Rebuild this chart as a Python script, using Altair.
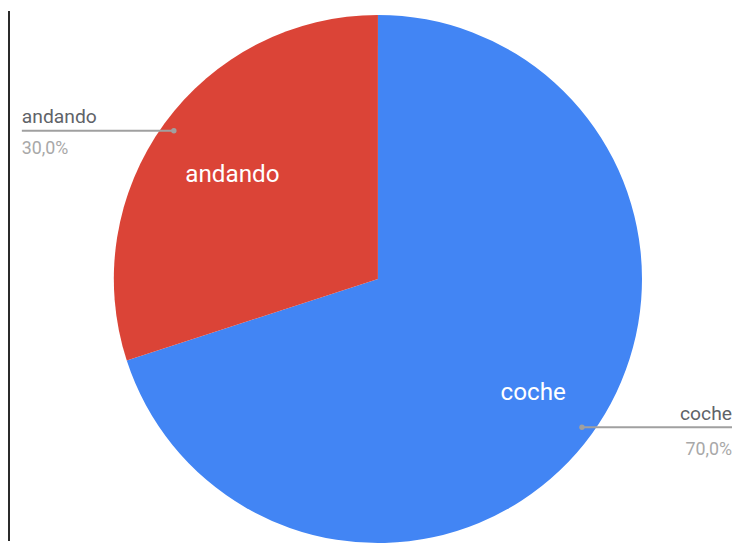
import altair as alt
import pandas as pd

categorias = ["coche", "andando"]
valores = [70, 30]
etiquetas = ["70,0%", "30,0%"]
colores = ["#4285F4", "#DB4437"]
orden = [1, 2]

df = pd.DataFrame({"categoria": categorias, "valor": valores,
                   "etiqueta": etiquetas, "orden": orden})

W, H = 732, 536
CX, CY = 374, 271
R = 267
R_IN = 188
R_DOT = 255
XL, XR = 14, 732

base = alt.Chart(df)

color = alt.Color("categoria:N", scale=alt.Scale(domain=categorias, range=colores), legend=None)
theta = alt.Theta("valor:Q", stack=True)
order = alt.Order("orden:Q")

pie = base.mark_arc(radius=R, x=CX, y=CY).encode(theta=theta, color=color, order=order)

inner = base.mark_text(radius=R_IN, x=CX, y=CY, dx=5, dy=5, color="white", fontSize=24.5,
                       font="Roboto").encode(
    theta=theta, text="categoria:N", order=order, detail="categoria:N")

lead = base.transform_window(
    cum="sum(valor)", sort=[alt.SortField("orden")], frame=[None, 0]
).transform_joinaggregate(
    total="sum(valor)"
).transform_calculate(
    mid="2*PI*(datum.cum - datum.valor/2)/datum.total"
).transform_calculate(
    px=f"{CX} + {R_DOT}*sin(datum.mid)", py=f"{CY} - {R_DOT}*cos(datum.mid)"
).transform_calculate(
    izq=f"datum.px < {CX}",
    ex=f"datum.px < {CX} ? {XL} : {W}",
    lx=f"datum.px < {CX} ? {XL} : {XR}",
)

px = alt.X("px:Q", scale=None)
py = alt.Y("py:Q", scale=None)

rules = lead.mark_rule(color="#a0a0a0", strokeWidth=2).encode(x=px, x2="ex:Q", y=py)
dots = lead.mark_circle(color="#a0a0a0", size=30, opacity=1).encode(x=px, y=py)

left = lead.transform_filter("datum.izq")
right = lead.transform_filter("!datum.izq")
lx = alt.X("lx:Q", scale=None)

name_l = left.mark_text(align="left", baseline="alphabetic", dy=-8, fontSize=19.5,
                        font="Roboto", color="#5f6368").encode(x=lx, y=py, text="categoria:N")
pct_l = left.mark_text(align="left", baseline="alphabetic", dy=24, fontSize=18,
                       font="Roboto", color="#a8a8a8").encode(x=lx, y=py, text="etiqueta:N")
name_r = right.mark_text(align="right", baseline="alphabetic", dy=-7, fontSize=19.5,
                         font="Roboto", color="#5f6368").encode(x=lx, y=py, text="categoria:N")
pct_r = right.mark_text(align="right", baseline="alphabetic", dy=28, fontSize=18,
                        font="Roboto", color="#a8a8a8").encode(x=lx, y=py, text="etiqueta:N")

strip = base.mark_rect(color="#2b2b2b").encode(
    x=alt.value(0), x2=alt.value(2), y=alt.value(0), y2=alt.value(H))

chart = alt.layer(pie, inner, rules, dots, name_l, pct_l, name_r, pct_r, strip).properties(
    width=W, height=H, autosize=alt.AutoSizeParams(type="none"), padding=0,
    background="white"
).configure_view(stroke=None)

chart.save("out.html", embed_options={"renderer": "svg", "actions": False})
